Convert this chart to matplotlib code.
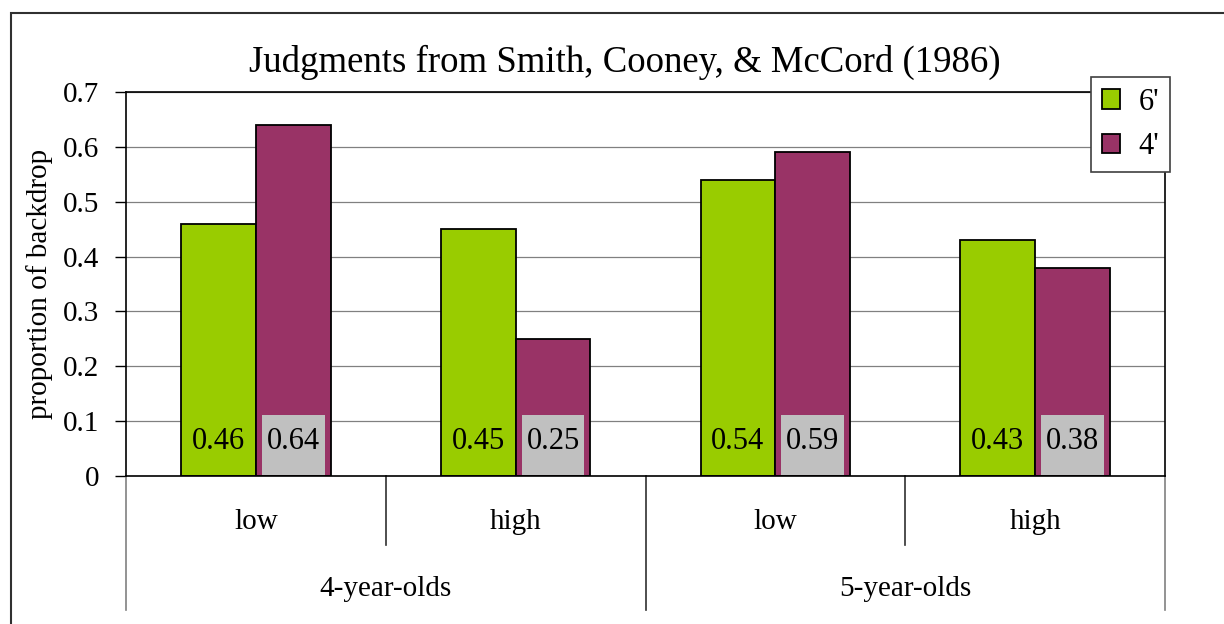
import numpy as np
import matplotlib
matplotlib.use('Agg')
import matplotlib.pyplot as plt
from matplotlib.patches import Rectangle
from matplotlib.transforms import blended_transform_factory

plt.rcParams['font.family'] = ['Liberation Serif', 'DejaVu Serif']

conditions = ['low', 'high', 'low', 'high']
age_groups = ['4-year-olds', '5-year-olds']
series_names = ["6'", "4'"]
vals_6ft = [0.46, 0.45, 0.54, 0.43]
vals_4ft = [0.64, 0.25, 0.59, 0.38]
yticks = [0, 0.1, 0.2, 0.3, 0.4, 0.5, 0.6, 0.7]

green = '#99CC00'
purple = '#993366'
label_grey = '#C0C0C0'

fig = plt.figure(figsize=(12.24, 6.24), dpi=100)
ax = fig.add_axes([126/1224, 1 - 476/624, (1165-126)/1224, (476-92)/624])

x = np.arange(len(conditions))
w = 0.288
ax.bar(x - w, vals_6ft, w, align='edge', color=green, edgecolor='black', lw=1.3, zorder=2, label=series_names[0])
ax.bar(x, vals_4ft, w, align='edge', color=purple, edgecolor='black', lw=1.3, zorder=2, label=series_names[1])

## value labels along the bottom of each bar
for i in range(len(x)):
	ax.text(x[i] - w/2, 0.062, '%.2f' % vals_6ft[i], ha='center', va='center', fontsize=22, zorder=4)
	ax.add_patch(Rectangle((x[i] + w/2 - 0.121, 0.002), 0.242, 0.109, facecolor=label_grey, edgecolor='none', zorder=3))
	ax.text(x[i] + w/2, 0.062, '%.2f' % vals_4ft[i], ha='center', va='center', fontsize=22, zorder=4)

ax.set_xlim(-0.5, len(x) - 0.5)
ax.set_ylim(0, 0.7)
ax.set_yticks(yticks)
ax.set_yticklabels(['0' if v == 0 else '%.1f' % v for v in yticks])
ax.tick_params(axis='y', length=8, width=1, pad=11, labelsize=21, direction='out')
ax.set_xticks([])
ax.yaxis.grid(True, color='#808080', lw=0.9)
ax.set_axisbelow(True)
for s in ax.spines.values():
	s.set_color('black')
	s.set_linewidth(1.2)

## two-level category axis below the plot
tr = blended_transform_factory(ax.transData, ax.transAxes)
for i in range(len(conditions)):
	ax.text(x[i], -0.12, conditions[i], transform=tr, ha='center', va='center', fontsize=21)
for i in range(len(x) + 1):
	bottom = -0.349 if i % 2 == 0 else -0.18
	col = '#808080' if i in (0, len(x)) else '#303030'
	ax.plot([i - 0.5, i - 0.5], [0, bottom], transform=tr, color=col, lw=1.2, clip_on=False)
for j in range(len(age_groups)):
	ax.text(2*j + 0.5, -0.294, age_groups[j], transform=tr, ha='center', va='center', fontsize=21)

leg = ax.legend(loc='upper left', bbox_to_anchor=(0.9288, 1.039), borderaxespad=0, fontsize=22,
	frameon=True, fancybox=False, framealpha=1, edgecolor='#404040',
	handlelength=0.6, handleheight=0.6, handletextpad=0.6, labelspacing=0.5,
	borderpad=0.35)
leg.get_frame().set_linewidth(1.2)

fig.text(625/1224, 1 - 62/624, 'Judgments from Smith, Cooney, & McCord (1986)', ha='center', va='center', fontsize=26.5)
fig.text(40/1224, 1 - 284/624, 'proportion of backdrop', rotation=90, ha='center', va='center', fontsize=21)

## outer chart border
fig.patches.append(Rectangle((11/1224, -0.1), 1.2, (624-13)/624 + 0.1, transform=fig.transFigure,
	fill=False, edgecolor='#303030', lw=1.5))

fig.savefig('out.png', dpi=100)
